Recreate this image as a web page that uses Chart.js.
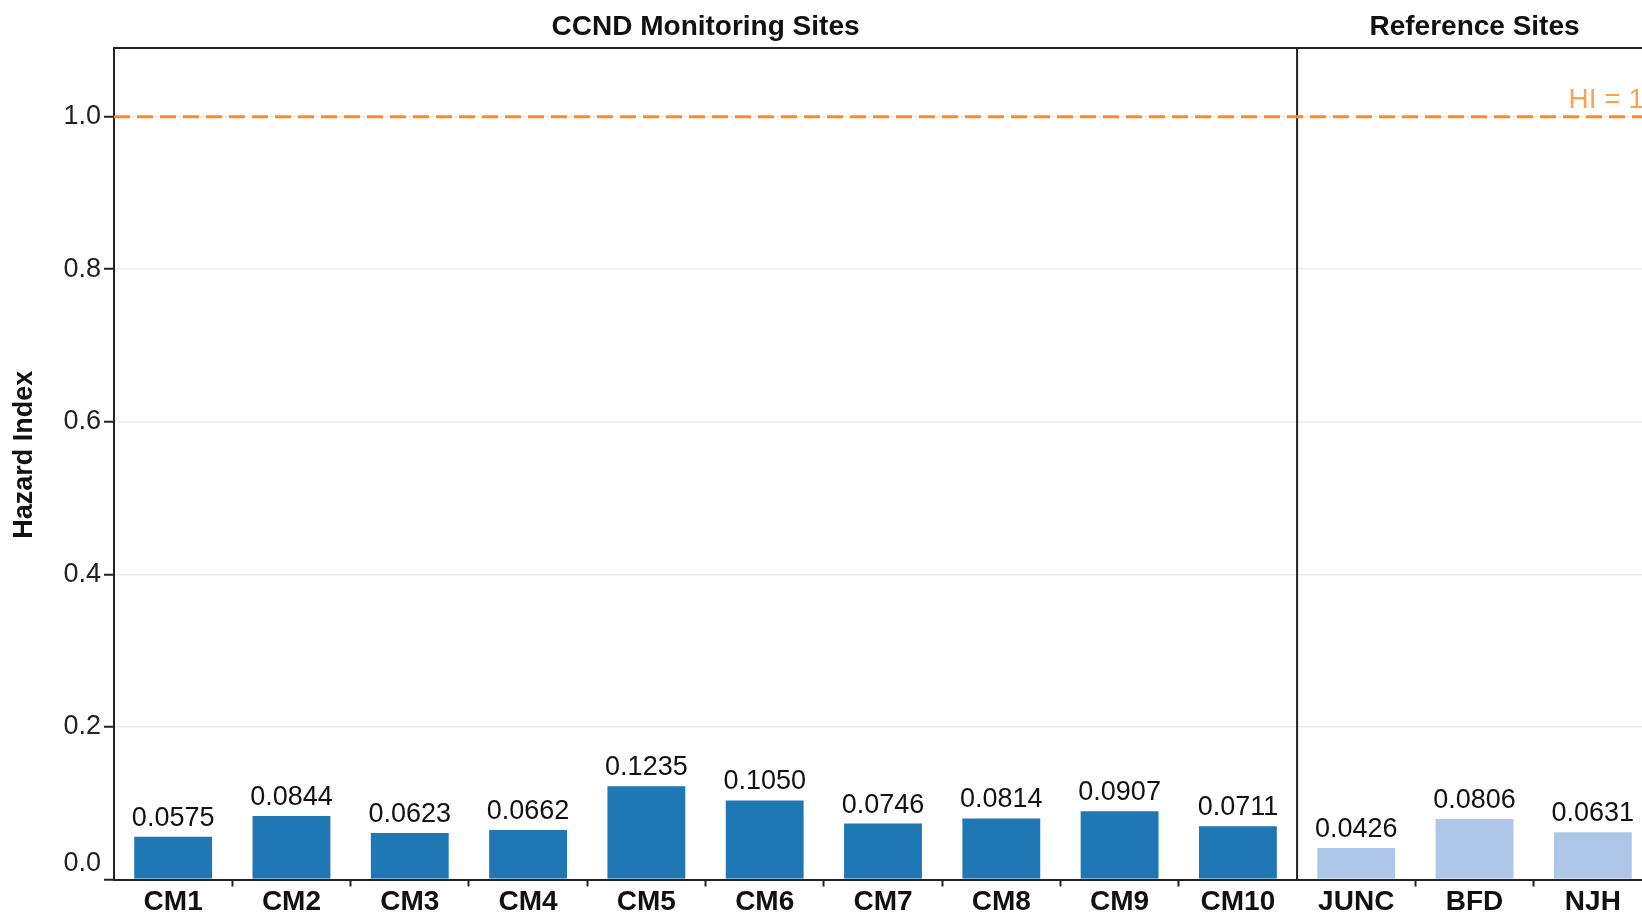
<!DOCTYPE html>
<html><head><meta charset="utf-8">
<script src="https://cdn.jsdelivr.net/npm/chart.js@4.4.1/dist/chart.umd.min.js"></script>
<style>html,body{margin:0;padding:0;overflow:hidden;background:#fff;width:1642px;height:916px}canvas{display:block}</style>
</head><body>
<canvas id="c" width="1662" height="916"></canvas>
<script>
const categories = ['CM1','CM2','CM3','CM4','CM5','CM6','CM7','CM8','CM9','CM10','JUNC','BFD','NJH'];
const hazardIndex = [0.0575,0.0844,0.0623,0.0662,0.1235,0.1050,0.0746,0.0814,0.0907,0.0711,0.0426,0.0806,0.0631];
const siteGroup = ['CCND','CCND','CCND','CCND','CCND','CCND','CCND','CCND','CCND','CCND','REF','REF','REF'];
const groupNames = ['CCND','REF'];
const panelTitles = ['CCND Monitoring Sites','Reference Sites'];
const groupColors = ['#1f77b4','#aec7e8'];
const yTicks = [0,0.2,0.4,0.6,0.8,1.0];
const yMax = 1.09;
const thresholdValue = 1;
const thresholdLabel = 'HI = 1';
const yAxisTitle = 'Hazard Index';

const FONT = '"Liberation Sans", Arial, Helvetica, sans-serif';

const overlay = {
  id: 'overlay',
  afterDraw(chart) {
    const {ctx, chartArea: ca, scales: {x, y}} = chart;
    const band = x.width / categories.length;
    ctx.save();
    // top frame line
    ctx.strokeStyle = '#222'; ctx.lineWidth = 2;
    ctx.beginPath(); ctx.moveTo(ca.left - 1, ca.top); ctx.lineTo(ca.right, ca.top); ctx.stroke();
    // panel separators and titles
    groupNames.forEach((g, gi) => {
      const idx = siteGroup.map((s, i) => s === g ? i : -1).filter(i => i >= 0);
      const l = x.getPixelForValue(idx[0]) - band / 2;
      const r = x.getPixelForValue(idx[idx.length - 1]) + band / 2;
      if (gi > 0) {
        ctx.strokeStyle = '#222'; ctx.lineWidth = 2;
        ctx.beginPath(); ctx.moveTo(l, ca.top); ctx.lineTo(l, ca.bottom); ctx.stroke();
      }
      ctx.fillStyle = '#111';
      ctx.font = 'bold 28px ' + FONT;
      ctx.textAlign = 'center'; ctx.textBaseline = 'alphabetic';
      ctx.fillText(panelTitles[gi], (l + r) / 2, ca.top - 13);
    });
    // threshold line
    const ty = y.getPixelForValue(thresholdValue);
    ctx.strokeStyle = '#ff8a22'; ctx.lineWidth = 3; ctx.setLineDash([16, 7]);
    ctx.beginPath(); ctx.moveTo(ca.left, ty); ctx.lineTo(ca.right, ty); ctx.stroke();
    ctx.setLineDash([]);
    ctx.fillStyle = 'rgba(255,140,30,0.8)';
    ctx.font = '28px ' + FONT;
    ctx.textAlign = 'right'; ctx.textBaseline = 'alphabetic';
    ctx.fillText(thresholdLabel, ca.right - 8, ty - 9);
    // value labels
    const meta = chart.getDatasetMeta(0);
    ctx.fillStyle = '#111';
    ctx.font = '27px ' + FONT;
    ctx.textAlign = 'center';
    meta.data.forEach((bar, i) => {
      ctx.fillText(hazardIndex[i].toFixed(4), bar.x, bar.y - 10);
    });
    // flush bottom y label
    ctx.fillStyle = '#222';
    ctx.font = '27px ' + FONT;
    ctx.textAlign = 'right'; ctx.textBaseline = 'middle';
    ctx.fillText(yTicks[0].toFixed(1), ca.left - 13, y.getPixelForValue(yTicks[0]) - 16);
    // y axis title
    ctx.save();
    ctx.translate(25, (ca.top + ca.bottom) / 2 - 9);
    ctx.rotate(-Math.PI / 2);
    ctx.fillStyle = '#111';
    ctx.font = 'bold 27px ' + FONT;
    ctx.textAlign = 'center'; ctx.textBaseline = 'middle';
    ctx.fillText(yAxisTitle, 0, 0);
    ctx.restore();
    ctx.restore();
  }
};

new Chart(document.getElementById('c'), {
  type: 'bar',
  data: {
    labels: categories,
    datasets: [{
      data: hazardIndex,
      backgroundColor: siteGroup.map(g => groupColors[groupNames.indexOf(g)]),
      borderColor: 'rgba(255,255,255,0.5)',
      borderWidth: 1,
      barPercentage: 0.675,
      categoryPercentage: 1.0
    }]
  },
  options: {
    responsive: false,
    animation: false,
    devicePixelRatio: 1,
    layout: {padding: {left: 0, top: 48, right: 10, bottom: 0}},
    plugins: {legend: {display: false}, tooltip: {enabled: false}},
    scales: {
      x: {
        offset: true,
        grid: {
          display: true, drawOnChartArea: false, drawTicks: true, tickLength: 7, offset: true,
          tickColor: c => (c.index === 0 || c.index === 10) ? 'rgba(0,0,0,0)' : '#222', tickWidth: 2
        },
        border: {display: true, color: '#222', width: 2},
        ticks: {color: '#111', font: {family: FONT, size: 28, weight: 'bold', lineHeight: 1}, padding: 2, maxRotation: 0, autoSkip: false},
        afterFit: s => { s.height = 36.5; }
      },
      y: {
        min: 0, max: yMax,
        afterBuildTicks: s => { s.ticks = yTicks.map(v => ({value: v})); },
        grid: {color: '#ececec', lineWidth: 1.5, drawTicks: true, tickLength: 10, tickColor: '#222', tickWidth: 2},
        border: {display: true, color: '#222', width: 2},
        ticks: {
          color: c => c.tick && c.tick.value === 0 ? 'rgba(0,0,0,0)' : '#222',
          font: {family: FONT, size: 27}, padding: 3,
          callback: v => Number(v).toFixed(1)
        },
        title: {display: false, text: yAxisTitle},
        afterFit: s => { s.width = 114; }
      }
    }
  },
  plugins: [overlay]
});
</script>
</body></html>
